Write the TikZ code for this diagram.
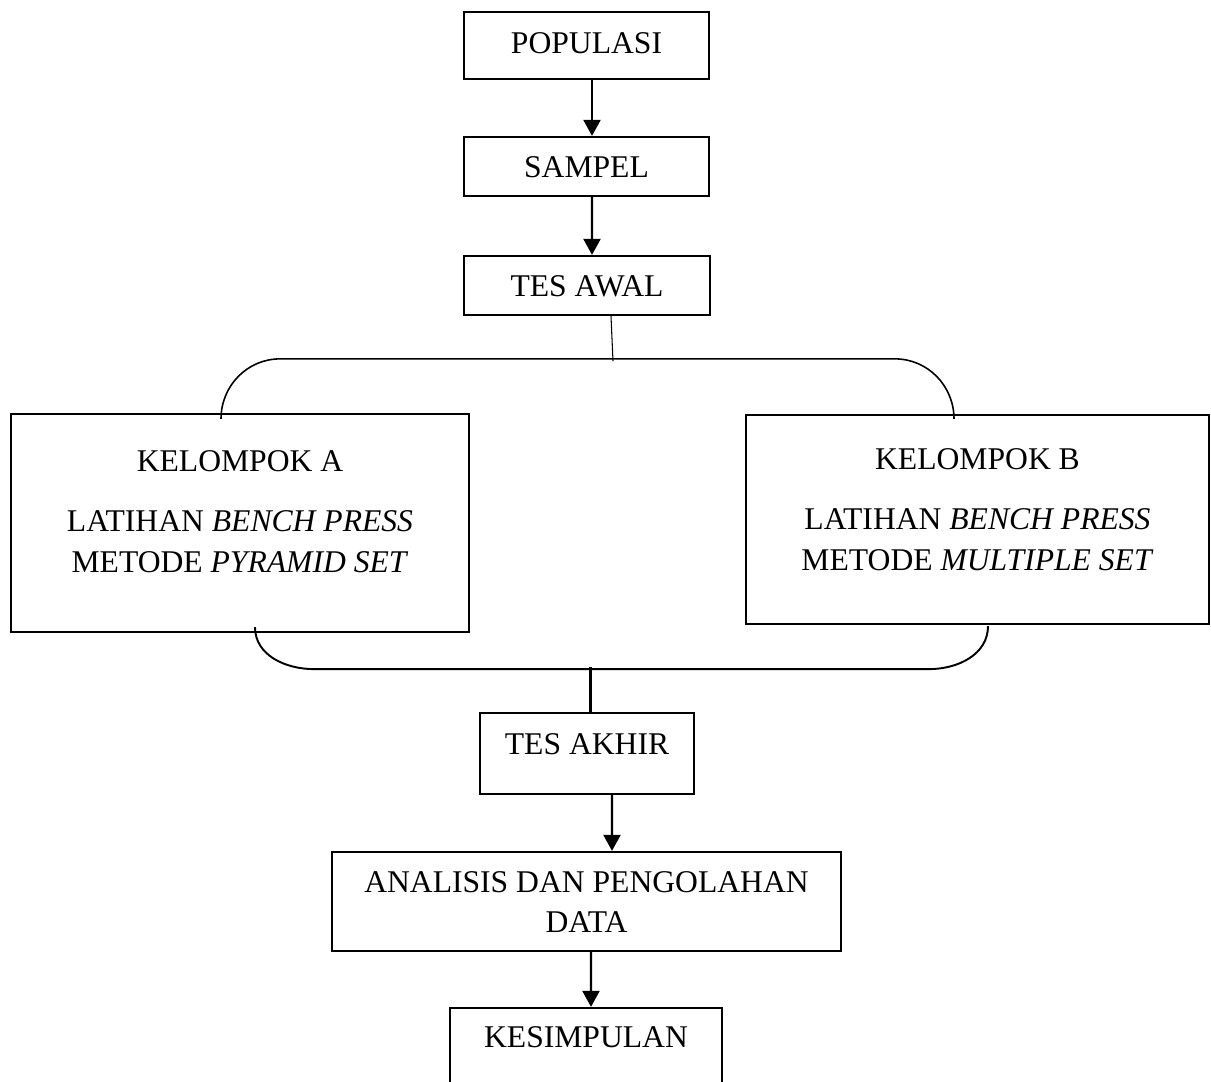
\documentclass[tikz,border=0pt]{standalone}
\usepackage{fontspec}
\setmainfont{Liberation Serif}
\usepackage{tikz}
\usetikzlibrary{arrows.meta,calc}

\tikzset{
    kotak/.style = {draw, line width = 1.3pt, rectangle, inner sep = 0pt, anchor = base, font = \fontsize{18}{23.3}\selectfont},
    panah/.style = {line width = 1.3pt, -{Triangle[width = 0.34cm, length = 0.32cm]}},
    garis/.style = {line width = 1.1pt}
}

\begin{document}
\begin{tikzpicture}[x = 0.02cm, y = -0.02cm]
            \useasboundingbox (0,0) rectangle (1211,1082);
            \clip (0,0) rectangle (1211,1082);

            \node[kotak, minimum width = 4.9cm, text height = 0.82cm, text depth = 0.52cm] (populasi) at (586.5,53) {POPULASI};
            \node[kotak, minimum width = 4.9cm, text height = 0.80cm, text depth = 0.38cm] (sampel) at (586.5,177) {SAMPEL};
            \node[kotak, minimum width = 4.92cm, text height = 0.80cm, text depth = 0.38cm] (tesawal) at (587,296) {TES AWAL};
            \node[kotak, minimum width = 9.16cm, text height = 1.14cm, text depth = 3.22cm] (kelA) at (240,471)
                {\begin{tabular}[t]{@{}c@{}}KELOMPOK A\\[11.4pt] LATIHAN \textit{BENCH PRESS}\\ METODE \textit{PYRAMID SET}\end{tabular}};
            \node[kotak, minimum width = 9.26cm, text height = 1.08cm, text depth = 3.10cm] (kelB) at (977.5,469)
                {\begin{tabular}[t]{@{}c@{}}KELOMPOK B\\[11.4pt] LATIHAN \textit{BENCH PRESS}\\ METODE \textit{MULTIPLE SET}\end{tabular}};
            \node[kotak, minimum width = 4.28cm, text height = 0.82cm, text depth = 0.80cm] (tesakhir) at (587,754) {TES AKHIR};
            \node[kotak, minimum width = 10.18cm, text height = 0.80cm, text depth = 1.18cm] (analisis) at (586.5,892)
                {\begin{tabular}[t]{@{}c@{}}ANALISIS DAN PENGOLAHAN\\ DATA\end{tabular}};
            \node[kotak, minimum width = 5.44cm, text height = 0.78cm, text depth = 1.2cm] (kesimpulan) at (586,1047) {KESIMPULAN};

            \draw[panah] ($(populasi.south)+(5.5,0)$) -- ($(sampel.north)+(5.5,0)$);
            \draw[panah] ($(sampel.south)+(5.5,0)$) -- ($(tesawal.north)+(5,0)$);
            \draw[line width = 0.6pt] ($(tesawal.south)+(24,0)$) -- ($(tesawal.south)+(26,45)$);
            \draw[garis, line width = 0.9pt] ($(kelA.north)+(-19,6)$) to[out = 90, in = 180] ($(kelA.north)+(40,-54)$)
                -- ($(kelB.north)+(-82.5,-55)$) to[out = 0, in = 90] ($(kelB.north)+(-23.5,5)$);
            \draw[garis] ($(kelA.south)+(15,-6)$) to[out = -90, in = 180] ($(kelA.south)+(74,36)$)
                -- ($(kelB.south)+(-48.5,44)$) to[out = 0, in = -90] ($(kelB.south)+(10.5,1)$);
            \draw[garis, line width = 1.3pt] ($(tesakhir.north)+(3.5,-45)$) -- ($(tesakhir.north)+(3.5,0)$);
            \draw[panah] ($(tesakhir.south)+(25,0)$) -- ($(analisis.north)+(25.5,0)$);
            \draw[panah] ($(analisis.south)+(4.5,0)$) -- ($(kesimpulan.north)+(5,0)$);

        \end{tikzpicture}
\end{document}
